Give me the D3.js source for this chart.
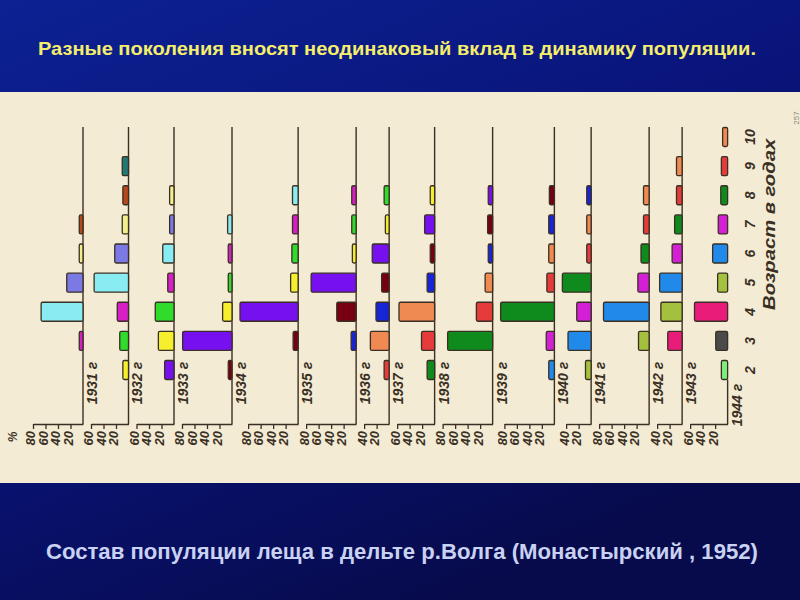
<!DOCTYPE html>
<html><head><meta charset="utf-8">
<script src="https://cdn.jsdelivr.net/npm/d3@7"></script>
<style>html,body{margin:0;padding:0;background:#0a1570;}svg{display:block}</style>
</head><body>
<svg id="c" width="800" height="600"></svg>
<script>
// ---- data ----
const titleText = "Разные поколения вносят неодинаковый вклад в динамику популяции.";
const footerText = "Состав популяции леща в дельте р.Волга (Монастырский , 1952)";
const years = [1931, 1932, 1933, 1934, 1935, 1936, 1937, 1938, 1939, 1940, 1941, 1942, 1943, 1944];
const ages = [2, 3, 4, 5, 6, 7, 8, 9, 10];
// percent of catch by age 2..10 (null = absent)
const pct1931 = [null, 6, 67, 26, 6, 6, null, null, null];
const pct1932 = [9, 14, 18, 55, 22, 10, 9, 10, null];
const pct1933 = [15, 25, 30, 10, 18, 7, 7, null, null];
const pct1934 = [6, 79, 15, 6, 6, 7, null, null, null];
const pct1935 = [null, 8, 93, 12, 10, 9, 9, null, null];
const pct1936 = [null, 8, 31, 72, 6, 7, 7, null, null];
const pct1937 = [8, 30, 21, 12, 27, 6, 8, null, null];
const pct1938 = [12, 21, 57, 12, 7, 16, 7, null, null];
const pct1939 = [null, 72, 26, 12, 7, 8, 7, null, null];
const pct1940 = [9, 13, 86, 12, 9, 9, 8, null, null];
const pct1941 = [9, 37, 23, 46, 7, 7, 7, null, null];
const pct1942 = [null, 17, 73, 18, 13, 9, 9, null, null];
const pct1943 = [null, 23, 34, 36, 16, 12, 9, 9, null];
const pct1944 = [10, 19, 53, 16, 24, 15, 11, 10, 8];
const panelValues = [pct1931, pct1932, pct1933, pct1934, pct1935, pct1936, pct1937,
                     pct1938, pct1939, pct1940, pct1941, pct1942, pct1943, pct1944];
// top tick label of each panel's percent axis
const axisMax = [80, 60, 60, 80, 80, 80, 40, 60, 80, 80, 40, 80, 40, 60];
// year classes (cohorts) and their colours
const cohorts = [1923, 1924, 1925, 1926, 1927, 1928, 1929, 1930, 1931, 1932,
                 1933, 1934, 1935, 1936, 1937, 1938, 1939, 1940, 1941, 1942];
const cohortColors = ["#1f7a76", "#b6491c", "#f3ee8c", "#7b79e4", "#88ecf2", "#d61fc6",
                      "#2fdc2c", "#f5ef2e", "#7710ee", "#760012", "#1626d6", "#ef8a52",
                      "#e63b3b", "#0f8a1c", "#d420d4", "#2189ea", "#a3c13e", "#ea1c7a",
                      "#4a4a4a", "#7cee7c"];

// ---- drawing ----
const W = 800, H = 600;
const svg = d3.select("#c");
const defs = svg.append("defs");
const g1 = defs.append("linearGradient").attr("id", "bg")
  .attr("x1", 0).attr("y1", 0).attr("x2", 0.55).attr("y2", 1);
g1.append("stop").attr("offset", 0).attr("stop-color", "#0d2192");
g1.append("stop").attr("offset", 0.5).attr("stop-color", "#09147a");
g1.append("stop").attr("offset", 1).attr("stop-color", "#070b4c");
svg.append("rect").attr("width", W).attr("height", H).attr("fill", "url(#bg)");

// scanned figure area
const paperTop = 92, paperBottom = 483;
svg.append("rect").attr("x", 0).attr("y", paperTop).attr("width", W)
  .attr("height", paperBottom - paperTop).attr("fill", "#f3ebd3");

const slideFont = "'Liberation Sans Narrow','Arial Narrow','Liberation Sans',Arial,sans-serif";
svg.append("text").attr("x", 397).attr("y", 55)
  .attr("text-anchor", "middle")
  .attr("font-family", slideFont)
  .attr("font-weight", "bold").attr("font-size", 19)
  .attr("fill", "#f4ee6c")
  .attr("textLength", 718).attr("lengthAdjust", "spacingAndGlyphs")
  .text(titleText);

svg.append("text").attr("x", 402).attr("y", 559)
  .attr("text-anchor", "middle")
  .attr("font-family", slideFont)
  .attr("font-weight", "bold").attr("font-size", 22)
  .attr("fill", "#c9d2f2")
  .attr("textLength", 712).attr("lengthAdjust", "spacingAndGlyphs")
  .text(footerText);

const color = d3.scaleOrdinal().domain(cohorts).range(cohortColors);
const yAge = d3.scalePoint().domain(ages).range([370, 137]);
const barH = 19;
const baseY = 424;
const pxPerPct = 0.625;
const leftEdge = 33, gap = 8;
const ink = "#3a2f24";
const handFont = "'Liberation Sans',Arial,sans-serif";

// panel positions derived from each panel's extent
const axisX = [];
panelValues.forEach((vals, i) => {
  const ext = pxPerPct * Math.max(axisMax[i], d3.max(vals));
  axisX.push(i === 0 ? leftEdge + ext : axisX[i - 1] + gap + ext);
});

const chart = svg.append("g");
years.forEach((yr, i) => {
  const x0 = axisX[i];
  const xs = d3.scaleLinear().domain([0, axisMax[i]]).range([x0, x0 - axisMax[i] * pxPerPct]);
  const pg = chart.append("g");
  const last = i === years.length - 1;
  const data = ages.map((a, k) => ({age: a, v: panelValues[i][k], cohort: yr - a}))
    .filter(d => d.v != null);

  // vertical baseline of the panel
  pg.append("line")
    .attr("x1", x0).attr("x2", x0)
    .attr("y1", last ? yAge(2) + barH / 2 : yAge(10) - 10)
    .attr("y2", baseY)
    .attr("stroke", ink).attr("stroke-width", 1.4);

  pg.selectAll("rect.bar").data(data).join("rect")
    .attr("class", "bar")
    .attr("x", d => xs(d.v))
    .attr("width", d => x0 - xs(d.v))
    .attr("y", d => yAge(d.age) - barH / 2)
    .attr("height", barH)
    .attr("rx", 1.5)
    .attr("fill", d => color(d.cohort))
    .attr("stroke", ink).attr("stroke-width", 1.3);

  // percent axis
  const ax = pg.append("g").attr("transform", `translate(0,${baseY})`)
    .call(d3.axisBottom(xs).tickValues(d3.range(20, axisMax[i] + 1, 20))
      .tickSize(5).tickSizeOuter(0));
  ax.select(".domain").attr("stroke", ink).attr("stroke-width", 1.4);
  ax.selectAll(".tick line").attr("stroke", ink).attr("stroke-width", 1.3);
  ax.selectAll(".tick text")
    .attr("transform", "rotate(-90)")
    .attr("x", -7).attr("y", 0).attr("dy", "0.15em")
    .attr("text-anchor", "end")
    .attr("font-family", handFont).attr("font-style", "italic").attr("font-weight", "bold")
    .attr("font-size", 13).attr("fill", ink);

  // year label
  pg.append("text")
    .attr("transform", `translate(${x0 + 9},${last ? 405 : 383}) rotate(-90)`)
    .attr("text-anchor", "middle").attr("dy", "0.35em")
    .attr("font-family", handFont).attr("font-style", "italic").attr("font-weight", "bold")
    .attr("font-size", 14).attr("fill", ink)
    .text(`${yr} г`);

  if (i === 0) {
    pg.append("text")
      .attr("transform", `translate(${xs(axisMax[i]) - 20},${baseY + 13}) rotate(-90)`)
      .attr("text-anchor", "middle").attr("dy", "0.35em")
      .attr("font-family", handFont).attr("font-style", "italic").attr("font-weight", "bold")
      .attr("font-size", 12).attr("fill", ink).text("%");
  }
});

// age labels on the right
const ageX = axisX[axisX.length - 1] + 22;
chart.selectAll("text.age").data(ages).join("text")
  .attr("class", "age")
  .attr("transform", d => `translate(${ageX},${yAge(d)}) rotate(-90)`)
  .attr("text-anchor", "middle").attr("dy", "0.35em")
  .attr("font-family", handFont).attr("font-style", "italic").attr("font-weight", "bold")
  .attr("font-size", 14).attr("fill", ink)
  .text(d => d);
chart.append("text")
  .attr("transform", `translate(${ageX + 19},${(yAge(10) + yAge(4)) / 2}) rotate(-90)`)
  .attr("text-anchor", "middle").attr("dy", "0.35em")
  .attr("font-family", handFont).attr("font-style", "italic").attr("font-weight", "bold")
  .attr("font-size", 17).attr("fill", ink)
  .attr("textLength", 171).attr("lengthAdjust", "spacingAndGlyphs")
  .text("Возраст в годах");

// page number remnant at the scan edge
svg.append("text")
  .attr("transform", "translate(796,118) rotate(-90)")
  .attr("text-anchor", "middle").attr("dy", "0.35em")
  .attr("font-family", handFont).attr("font-size", 8).attr("fill", "#8a8678")
  .text("257");
</script>
</body></html>
